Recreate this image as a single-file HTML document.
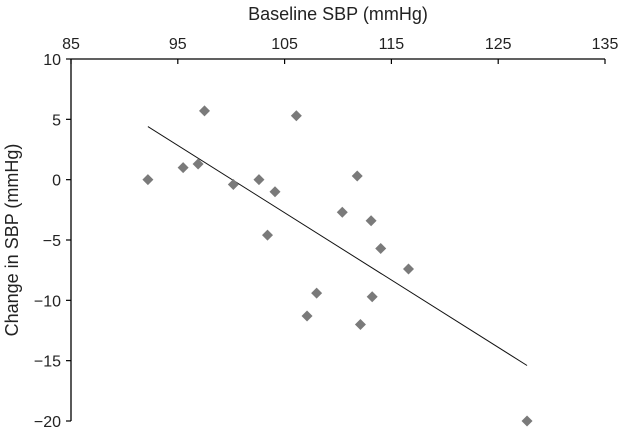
<!DOCTYPE html>
<html><head><meta charset="utf-8"><style>
body{margin:0;background:#fff}
svg{display:block;font-family:"Liberation Sans",sans-serif}
</style></head><body>
<svg id="chart" width="623" height="430" viewBox="0 0 623 430"></svg>
<script>
const xTicks=[85,95,105,115,125,135];
const yTicks=[10,5,0,-5,-10,-15,-20];
const xVals=[92.2,95.5,96.9,97.5,100.2,102.6,103.4,104.1,106.1,107.1,108.0,110.4,111.8,112.1,113.1,113.2,114.0,116.6,127.7];
const yVals=[0.0,1.0,1.3,5.7,-0.4,0.0,-4.6,-1.0,5.3,-11.3,-9.4,-2.7,0.3,-12.0,-3.4,-9.7,-5.7,-7.4,-20];
const fitX=[92.2,127.7];
const fitY=[4.4,-15.4];
const L=71,R=605,T=59,B=421;
const sx=v=>L+(v-85)/(135-85)*(R-L);
const sy=v=>T+(10-v)/30*(B-T);
const svg=document.getElementById('chart');
const NS='http://www.w3.org/2000/svg';
function mk(t,a){const e=document.createElementNS(NS,t);for(const k in a)e.setAttribute(k,a[k]);svg.appendChild(e);return e;}
let e;
e=mk('line',{x1:L,y1:T,x2:R,y2:T,stroke:'#000','stroke-width':1.3});


e=mk('line',{x1:L,y1:T,x2:L,y2:B,stroke:'#000','stroke-width':1.3});


xTicks.forEach(v=>{
  e=mk('line',{x1:sx(v),y1:T,x2:sx(v),y2:T+5,stroke:'#000','stroke-width':1.2});
  
  
  e=mk('text',{x:sx(v),y:T-10,'text-anchor':'middle','font-size':16,fill:'#222'});
  e.textContent=v;
  
  
});
yTicks.forEach(v=>{
  e=mk('line',{x1:L-5,y1:sy(v),x2:L,y2:sy(v),stroke:'#000','stroke-width':1.2});
  
  
  e=mk('text',{x:L-10,y:sy(v)+6,'text-anchor':'end','font-size':16,fill:'#222'});
  e.textContent=v<0?'\u2212'+(-v):v;
  
  
});
e=mk('line',{x1:sx(fitX[0]),y1:sy(fitY[0]),x2:sx(fitX[1]),y2:sy(fitY[1]),stroke:'#111','stroke-width':1});


xVals.forEach((v,i)=>{
  const cx=sx(v),cy=sy(yVals[i]),r=5.5;
  e=mk('polygon',{points:`${cx},${cy-r} ${cx+r},${cy} ${cx},${cy+r} ${cx-r},${cy}`,fill:'#7a7a7a'});
  
  
});
e=mk('text',{x:338,y:20,'text-anchor':'middle','font-size':18,fill:'#222'});
e.textContent='Baseline SBP (mmHg)';


e=mk('text',{x:0,y:0,'text-anchor':'middle','font-size':18,fill:'#222',transform:'translate(18,240) rotate(-90)'});
e.textContent='Change in SBP (mmHg)';


</script>
</body></html>
